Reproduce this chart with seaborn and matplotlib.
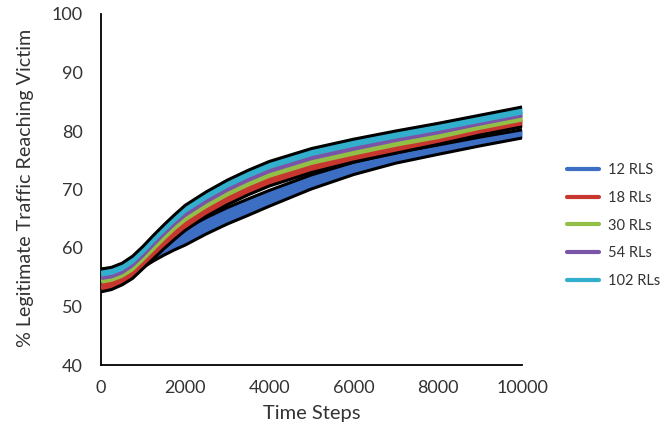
import matplotlib
matplotlib.use("Agg")
import matplotlib.pyplot as plt
import pandas as pd
import seaborn as sns

# ---- data ----
steps = [0, 250, 500, 750, 1000, 1250, 1500, 1750, 2000, 2500, 3000,
         3500, 4000, 5000, 6000, 7000, 8000, 9000, 10000]
series_names = ["12 RLS", "18 RLs", "30 RLs", "54 RLs", "102 RLs"]

rl12 = [55.0, 55.1, 55.5, 56.6, 58.1, 59.2, 60.2, 61.1, 61.9, 63.8, 65.5,
        67.0, 68.5, 71.3, 73.6, 75.4, 76.8, 78.2, 79.5]
rl18 = [53.4, 53.8, 54.6, 55.7, 57.4, 59.1, 60.8, 62.4, 63.9, 66.3, 68.3,
        70.0, 71.5, 73.8, 75.5, 77.0, 78.4, 80.0, 81.4]
rl30 = [54.5, 54.8, 55.5, 56.6, 58.3, 60.1, 61.9, 63.6, 65.1, 67.4, 69.4,
        71.1, 72.6, 74.8, 76.4, 77.9, 79.2, 80.8, 82.2]
rl54 = [55.1, 55.4, 56.1, 57.3, 59.0, 60.9, 62.7, 64.4, 65.9, 68.2, 70.2,
        71.9, 73.4, 75.6, 77.2, 78.7, 80.0, 81.5, 82.9]
rl102 = [55.8, 56.1, 56.8, 58.0, 59.7, 61.6, 63.4, 65.1, 66.7, 69.0, 71.0,
         72.7, 74.2, 76.4, 78.0, 79.4, 80.7, 82.1, 83.5]

err12 = [1.4, 1.4, 1.4, 1.4, 1.4, 1.4, 1.4, 1.4, 1.4, 1.4, 1.4,
         1.4, 1.35, 1.2, 1.05, 0.9, 0.8, 0.75, 0.7]
err18 = [0.9, 0.9, 0.9, 0.9, 0.9, 0.9, 0.9, 0.9, 0.9, 0.9, 0.9,
         0.9, 0.9, 0.9, 0.8, 0.8, 0.7, 0.7, 0.7]
err30 = [0.5] * 19
err54 = [0.5] * 19
err102 = [0.6] * 19

x_ticks = [0, 2000, 4000, 6000, 8000, 10000]
y_ticks = [40, 50, 60, 70, 80, 90, 100]

colors = ["#3C6EC4", "#C8372F", "#92C046", "#7A54A6", "#32AFCD"]

# ---- long-form table ----
rows = []
for name, vals, errs in zip(series_names, [rl12, rl18, rl30, rl54, rl102],
                            [err12, err18, err30, err54, err102]):
    for t, v, e in zip(steps, vals, errs):
        rows.append({"step": t, "value": v, "err": e, "series": name})
df = pd.DataFrame(rows)
df["lo"] = df["value"] - df["err"]
df["hi"] = df["value"] + df["err"]

sns.set_style("white")
plt.rcParams["font.family"] = ["Lato", "DejaVu Sans"]

fig = plt.figure(figsize=(6.67, 4.34), dpi=100)
ax = fig.add_axes([101 / 667, 1 - 365 / 434, 421 / 667, 351 / 434])

black_lower = {"12 RLS", "18 RLs"}
black_upper = {"12 RLS", "102 RLs"}

for i, (name, col) in enumerate(zip(series_names, colors)):
    d = df[df["series"] == name]
    z = 2 + 2 * i
    ax.fill_between(d["step"], d["lo"], d["hi"], color=col, lw=0, zorder=z)
    sns.lineplot(data=d, x="step", y="value", color=col, lw=3,
                 label=name, ax=ax, zorder=z + 0.2)
    if name in black_lower:
        ax.plot(d["step"], d["lo"], color="black", lw=2.2, zorder=z + 0.4,
                solid_joinstyle="round")
    if name in black_upper:
        ax.plot(d["step"], d["hi"], color="black", lw=2.2, zorder=z + 0.4,
                solid_joinstyle="round")

ax.set_xlim(0, 10000)
ax.set_ylim(40, 100)
ax.set_xticks(x_ticks)
ax.set_yticks(y_ticks)
ax.tick_params(direction="out", length=5, width=1.2, colors="black",
               labelcolor="#333333", labelsize=13)
ax.tick_params(axis="x", pad=6)
ax.tick_params(axis="y", pad=8)
for s in ["top", "right"]:
    ax.spines[s].set_visible(False)
for s in ["left", "bottom"]:
    ax.spines[s].set_color("black")
    ax.spines[s].set_linewidth(1.3)

ax.set_xlabel("Time Steps", fontsize=14.5, color="#333333", va="center")
ax.set_ylabel("% Legitimate Traffic Reaching Victim", fontsize=14.2,
              color="#333333", va="center")
ax.xaxis.set_label_coords(0.501, -0.137)
ax.yaxis.set_label_coords(-0.18, 0.504)

leg = ax.legend(loc="center left", bbox_to_anchor=(567 / 667, 1 - 225.5 / 434),
                bbox_transform=fig.transFigure, frameon=False, fontsize=10.5,
                handlelength=2.2, handletextpad=0.6, labelspacing=0.95,
                borderpad=0, borderaxespad=0)
for h in leg.get_lines():
    h.set_linewidth(3)
for t in leg.get_texts():
    t.set_color("#333333")

fig.savefig("out.png", dpi=100)
